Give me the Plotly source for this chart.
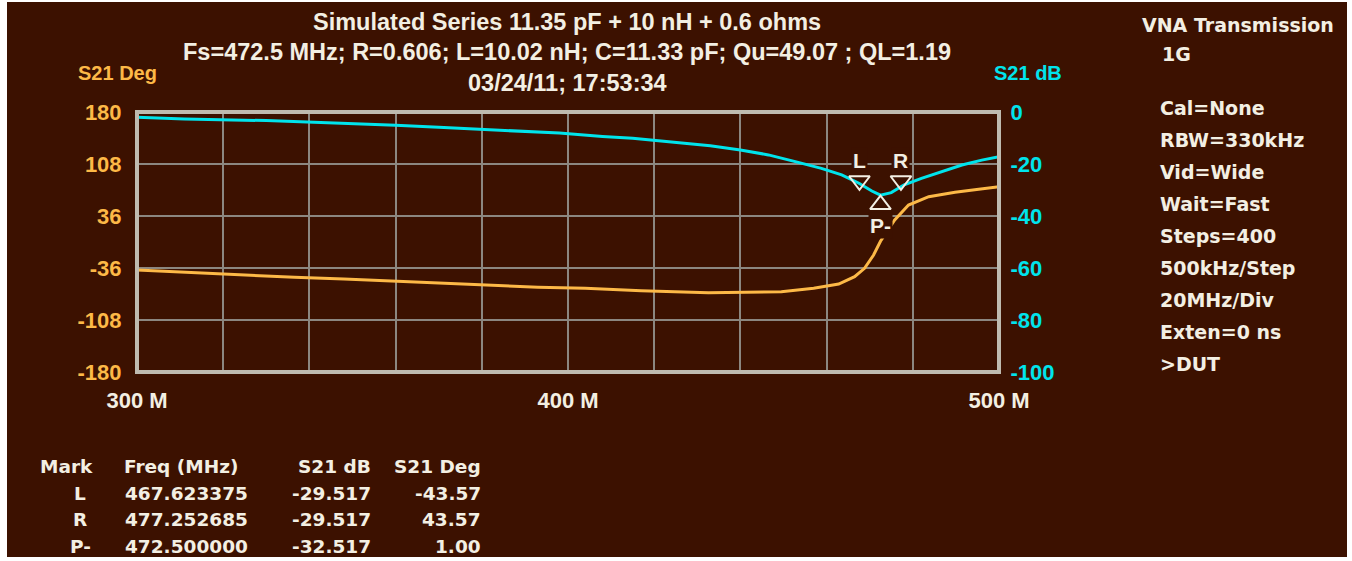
import numpy as np
import plotly.graph_objects as go

# ---------------- data ----------------
freq_db = [300, 311, 330, 346, 360, 370, 380, 389, 398, 408, 415, 421, 428, 433, 440,
           446.5, 452.5, 458.8, 463.5, 467.5, 470.5, 472.5, 475, 478, 482, 486.7,
           491.4, 496, 500]
s21_db = [-2.0, -2.7, -3.3, -4.2, -5.1, -5.9, -6.7, -7.4, -8.1, -9.4, -10.1, -11.1,
          -12.1, -13.0, -14.6, -16.5, -19.0, -21.7, -24.2, -27.4, -30.4, -32.0, -31.0,
          -28.0, -25.5, -23.0, -20.4, -18.5, -17.2]

freq_deg = [300, 313, 325, 336.5, 348, 360, 370.5, 381.6, 393, 404, 417, 432.6, 449.5,
            457, 462.8, 466.5, 468.8, 470.9, 472.5, 475.8, 479, 483.7, 489.8, 495.3, 500]
s21_deg = [-38.8, -42.5, -45.7, -48.9, -51.2, -54.4, -57.2, -59.5, -62.7, -64.1, -67.4,
           -70.2, -68.8, -64.1, -58.2, -48.0, -36.4, -18.0, 1.0, 30.5, 51.2, 62.7, 68.8,
           73.0, 76.6]

mark_names = ["L", "R", "P-"]
mark_freq = [467.623375, 477.252685, 472.500000]
mark_db = [-29.517, -29.517, -32.517]
mark_deg = [-43.57, 43.57, 1.00]

x_tickvals = [300, 400, 500]
x_ticktext = ["300 M", "400 M", "500 M"]
deg_ticks = [-180, -108, -36, 36, 108, 180]
db_ticks = [-100, -80, -60, -40, -20, 0]

title_lines = ["Simulated Series 11.35 pF + 10 nH + 0.6 ohms",
               "Fs=472.5 MHz; R=0.606; L=10.02 nH; C=11.33 pF; Qu=49.07 ; QL=1.19",
               "03/24/11; 17:53:34"]
panel_head = ["VNA Transmission", "1G"]
panel_lines = ["Cal=None", "RBW=330kHz", "Vid=Wide", "Wait=Fast", "Steps=400",
               "500kHz/Step", "20MHz/Div", "Exten=0 ns", ">DUT"]
table_head = ["Mark", "Freq (MHz)", "S21 dB", "S21 Deg"]

# ---------------- style ----------------
W, H = 1352, 561
L_PX, R_PX, T_PX, B_PX = 137, 999, 112, 372
BG = "#3c1100"
CREAM = "#f3efe3"
ORANGE = "#fdb947"
CYAN = "#00e4ec"
GRID = "#8c8780"
FRAME = "#bfbbb0"
TFONT = "Liberation Sans, Arial, sans-serif"
PFONT = "DejaVu Sans, Verdana, sans-serif"


def px(x):
    return (x - L_PX) / (R_PX - L_PX)


def py(y):
    return (B_PX - y) / (B_PX - T_PX)


def f(family, size, color):
    return dict(family=family, size=size, color=color, weight="bold")


fig = go.Figure()
fig.add_trace(go.Scatter(x=freq_deg, y=s21_deg, mode="lines", yaxis="y",
                         line=dict(color=ORANGE, width=3), hoverinfo="skip"))
fig.add_trace(go.Scatter(x=freq_db, y=s21_db, mode="lines", yaxis="y2",
                         line=dict(color=CYAN, width=3), hoverinfo="skip"))

# marker triangles (offset ~8 px from the marker's dB value)
off_db = 8 / (B_PX - T_PX) * 100
tri_y = [mark_db[0] + off_db, mark_db[1] + off_db, mark_db[2] - off_db]
fig.add_trace(go.Scatter(x=mark_freq, y=tri_y, mode="markers", yaxis="y2",
                         marker=dict(symbol=["triangle-down-open", "triangle-down-open",
                                             "triangle-up-open"],
                                     size=18, color=CREAM, line=dict(color=CREAM, width=2)),
                         hoverinfo="skip"))

shapes = [
    dict(type="rect", xref="paper", yref="paper", x0=px(7), x1=px(1347), y0=py(557),
         y1=py(2), fillcolor=BG, line=dict(width=0), layer="below"),
    dict(type="rect", xref="paper", yref="paper", x0=0, x1=1, y0=0, y1=1,
         line=dict(color=FRAME, width=4), layer="above"),
]

ann = []
for i, t in enumerate(title_lines):
    ann.append(dict(x=px(567), y=py([22, 52, 83][i]), xref="paper", yref="paper",
                    text=t, showarrow=False, xanchor="center", yanchor="middle",
                    font=f(TFONT, 23.5, CREAM)))
ann.append(dict(x=px(117), y=py(73), xref="paper", yref="paper", text="S21 Deg",
                showarrow=False, xanchor="center", yanchor="middle",
                font=f(TFONT, 20, ORANGE)))
ann.append(dict(x=px(1028), y=py(73), xref="paper", yref="paper", text="S21 dB",
                showarrow=False, xanchor="center", yanchor="middle",
                font=f(TFONT, 20, CYAN)))

# right panel
ann.append(dict(x=px(1140), y=py(25), xref="paper", yref="paper", text=panel_head[0],
                showarrow=False, xanchor="left", yanchor="middle",
                font=f(PFONT, 19, CREAM)))
ann.append(dict(x=px(1160), y=py(54), xref="paper", yref="paper", text=panel_head[1],
                showarrow=False, xanchor="left", yanchor="middle",
                font=f(PFONT, 19, CREAM)))
for i, t in enumerate(panel_lines):
    ann.append(dict(x=px(1158), y=py(108 + 32 * i), xref="paper", yref="paper", text=t,
                    showarrow=False, xanchor="left", yanchor="middle",
                    font=f(PFONT, 19, CREAM)))

# marker table
row_y = [466, 493, 519, 546]
hx = [(66, "center"), (122, "left"), (373, "right"), (483, "right")]
for (x, anc), t in zip(hx, table_head):
    ann.append(dict(x=px(x), y=py(row_y[0]), xref="paper", yref="paper", text=t,
                    showarrow=False, xanchor=anc, yanchor="middle",
                    font=f(PFONT, 18.5, CREAM)))
for i in range(len(mark_names)):
    vals = [mark_names[i], f"{mark_freq[i]:.6f}", f"{mark_db[i]:.3f}", f"{mark_deg[i]:.2f}"]
    cols = [(80, "center"), (123, "left"), (373, "right"), (483, "right")]
    for (x, anc), t in zip(cols, vals):
        ann.append(dict(x=px(x), y=py(row_y[i + 1]), xref="paper", yref="paper", text=t,
                        showarrow=False, xanchor=anc, yanchor="middle",
                        font=f(PFONT, 18.5, CREAM)))

# marker labels on the chart
for i, nm in enumerate(mark_names):
    ys = 28 if nm != "P-" else -29
    ann.append(dict(x=mark_freq[i], y=mark_db[i], xref="x", yref="y2", text=nm,
                    showarrow=False, xanchor="center", yanchor="middle", yshift=ys,
                    bgcolor=BG, borderpad=1,
                    font=f(TFONT, 21, CREAM)))

fig.update_layout(
    width=W, height=H,
    margin=dict(l=L_PX, r=W - R_PX, t=T_PX, b=H - B_PX, pad=0),
    paper_bgcolor="white", plot_bgcolor=BG,
    showlegend=False,
    shapes=shapes, annotations=ann,
    xaxis=dict(range=[300, 500], tickvals=x_tickvals, ticktext=x_ticktext,
               showgrid=True, gridcolor=GRID, gridwidth=1.5, zeroline=False,
               ticks="outside", ticklen=9, tickcolor="rgba(0,0,0,0)",
               tickfont=f(TFONT, 22, CREAM),
               minor=dict(tick0=300, dtick=20, showgrid=True, gridcolor=GRID,
                          gridwidth=1.5, ticks=""),
               showline=False, fixedrange=True),
    yaxis=dict(range=[-180, 180], tickvals=deg_ticks,
               ticktext=[str(v) for v in deg_ticks],
               showgrid=True, gridcolor=GRID, gridwidth=1.5, zeroline=False,
               ticks="outside", ticklen=10, tickcolor="rgba(0,0,0,0)",
               tickfont=f(TFONT, 22, ORANGE),
               showline=False, fixedrange=True),
    yaxis2=dict(range=[-100, 0], tickvals=db_ticks,
                ticktext=[str(v) for v in db_ticks], overlaying="y", side="right",
                showgrid=False, zeroline=False,
                ticks="outside", ticklen=6, tickcolor="rgba(0,0,0,0)",
                tickfont=f(TFONT, 22, CYAN),
                showline=False, fixedrange=True),
)

fig.write_html("out.html", config={"displayModeBar": False},
               post_script="document.body.style.margin='0px';")
